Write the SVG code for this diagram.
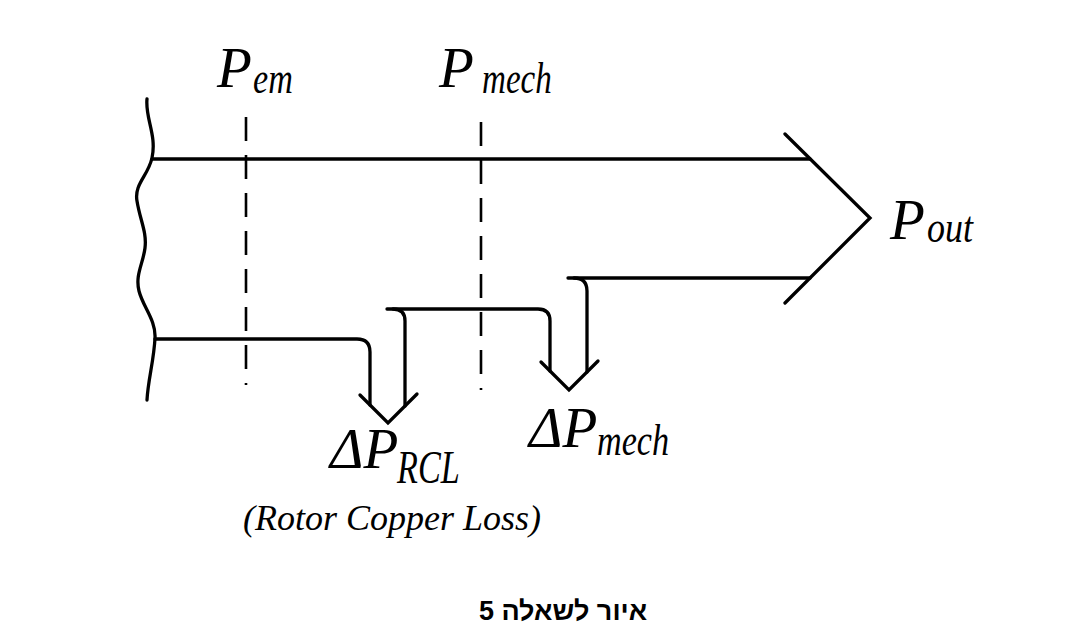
<svg xmlns="http://www.w3.org/2000/svg" width="1092" height="631" viewBox="0 0 1092 631">
<style>
.ln{fill:none;stroke:#000;stroke-width:3.3;stroke-linecap:round;stroke-linejoin:miter}
.ds{fill:none;stroke:#000;stroke-width:2.6;stroke-dasharray:24 14}
.it{font-family:"Liberation Serif","Times New Roman",serif;font-style:italic;fill:#000}
.big{font-size:57px}
.sub{font-size:36px}
.heb{font-family:"Liberation Sans",Arial,sans-serif;font-weight:bold;font-size:27px;fill:#000}
</style>
<rect width="1092" height="631" fill="#fff"/>
<g id="connectors">
  <path id="wavy-edge" class="ln" d="M147,99 C145,118 157,135 152,158 C148,176 134,184 137,201 C140,220 147,232 145,248 C143,264 135,275 139,291 C143,307 156,320 155,338 C154,360 148,380 147,400"/>
  <path id="flow-top" class="ln" d="M152,159 H810"/>
  <path id="flow-chevron" class="ln" d="M785,134 L870,218 L785,303"/>
  <path id="flow-out-bottom" class="ln" d="M568,278 H810"/>
  <path id="mech-right" class="ln" d="M574,278 Q587,278 587,291 V372"/>
  <path id="mid-line" class="ln" d="M387,309 H538 Q550,309 550,321 V371"/>
  <path id="rcl-right" class="ln" d="M393,309 Q405,309 405,321 V406"/>
  <path id="bottom-line" class="ln" d="M155,339 H357 Q370,339 370,352 V405"/>
  <path id="rcl-head" class="ln" d="M360,395 L388,423 L417,394"/>
  <path id="mech-head" class="ln" d="M541,362 L569,390 L598,361"/>
  <path id="dash-em" class="ds" d="M246,117 V385"/>
  <path id="dash-mech" class="ds" d="M481,122 V390"/>
</g>
<g id="label-pem">
  <text class="it big" x="217" y="87">P</text>
  <text class="it sub" transform="translate(253,93) scale(0.95,1.25)">em</text>
</g>
<g id="label-pmech">
  <text class="it big" x="439" y="87">P</text>
  <text class="it sub" transform="translate(482,93) scale(0.92,1.25)">mech</text>
</g>
<g id="label-pout">
  <text class="it big" x="890" y="239">P</text>
  <text class="it sub" transform="translate(927,242) scale(1,1.25)">out</text>
</g>
<g id="label-dprcl">
  <text class="it big" x="330" y="468">ΔP</text>
  <text class="it sub" transform="translate(397,483) scale(0.95,1.28)">RCL</text>
  <text class="it" font-size="36" x="243" y="530">(Rotor Copper Loss)</text>
</g>
<g id="label-dpmech">
  <text class="it big" x="529" y="447">ΔP</text>
  <text class="it sub" transform="translate(597,455) scale(0.95,1.25)">mech</text>
</g>
<g id="caption">
  <text class="heb" x="563" y="620" text-anchor="middle">איור לשאלה 5</text>
</g>
</svg>
